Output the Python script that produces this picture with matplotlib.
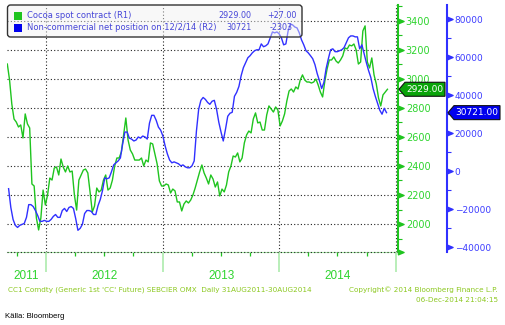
import matplotlib
matplotlib.use("Agg")
import matplotlib.pyplot as plt
import matplotlib.dates as mdates
import matplotlib.transforms as mtransforms
from matplotlib.patches import Polygon, FancyBboxPatch, Rectangle
from matplotlib.path import Path
import pandas as pd

# Cocoa front-month close (USD/t), weekly Friday samples
cocoa_start = "2011-09-02"
cocoa_close = [
    3103, 2993, 2828, 2724, 2703, 2669, 2683, 2593, 2759, 2690,
    2662, 2276, 2262, 2041, 1959, 2041, 2234, 2131, 2200, 2317,
    2303, 2386, 2393, 2338, 2448, 2393, 2359, 2400, 2359, 2365,
    2200, 2096, 2303, 2338, 2372, 2379, 2352, 2221, 2083, 2124,
    2248, 2221, 2234, 2303, 2338, 2234, 2248, 2303, 2400, 2455,
    2455, 2497, 2614, 2731, 2579, 2510, 2483, 2441, 2441, 2441,
    2455, 2400, 2441, 2428, 2559, 2552, 2483, 2414, 2297, 2262,
    2262, 2276, 2269, 2214, 2241, 2228, 2152, 2152, 2090, 2138,
    2159, 2145, 2165, 2200, 2248, 2303, 2359, 2407, 2352, 2317,
    2276, 2338, 2310, 2255, 2290, 2193, 2241, 2221, 2269, 2359,
    2400, 2469, 2462, 2490, 2428, 2455, 2559, 2614, 2641, 2628,
    2724, 2766, 2697, 2703, 2648, 2648, 2752, 2814, 2793, 2772,
    2807, 2786, 2676, 2710, 2759, 2848, 2917, 2931, 2910, 2945,
    2931, 2993, 3028, 2993, 2979, 2979, 2972, 2979, 3000, 2959,
    2910, 2876, 2986, 3069, 3131, 3131, 3152, 3124, 3110, 3131,
    3159, 3214, 3207, 3234, 3228, 3241, 3200, 3103, 3117, 3331,
    3366, 3117, 3076, 3145, 3028, 2966, 2869, 2814, 2890, 2910,
    2929,
]

# Non-commercial net position (contracts), weekly Tuesday reports
cot_start = "2011-09-06"
cot_net = [
    -9300, -19200, -25500, -28600, -29700, -28600, -28100, -27600, -24400, -17700,
    -17700, -18700, -20800, -23400, -26500, -26500, -26000, -26500, -26500, -25500,
    -23900, -22900, -24400, -24400, -20800, -19700, -21300, -19200, -18700, -19700,
    -25000, -31200, -30200, -28100, -22400, -20800, -20800, -21300, -22900, -22900,
    -18200, -15000, -10300, -3600, -4100, -3600, -400, 3200, 4300, 5300,
    6900, 14200, 20500, 20500, 17300, 16800, 15800, 16300, 17900, 17300,
    18400, 17900, 16800, 25200, 29300, 29300, 26700, 23100, 21500, 18400,
    13200, 9000, 5800, 4300, 4800, 4300, 3800, 2700, 3200, 2200,
    1700, 1700, 2700, 5300, 21000, 32500, 37200, 38700, 37700, 36100,
    35100, 36700, 37200, 32500, 25700, 20500, 15800, 22000, 28800, 30400,
    30900, 39300, 41400, 44500, 50200, 54400, 57000, 59600, 60700, 62200,
    63300, 63800, 63800, 66900, 65400, 65900, 66900, 70100, 73200, 72700,
    73200, 72200, 70100, 66400, 66900, 73700, 77400, 76900, 75800, 75300,
    72700, 69000, 66400, 63300, 62200, 60700, 59100, 56000, 51300, 47600,
    43400, 46600, 53900, 59100, 63800, 64300, 62800, 62800, 63300, 63800,
    64900, 67500, 70100, 71100, 71100, 70600, 70600, 64300, 66400, 61700,
    57000, 52800, 49200, 43400, 39300, 35600, 32000, 29900, 33000, 30721,
]

cocoa_last, cocoa_chg = 2929.00, 27.00
cot_last, cot_chg = 30721, -2303

years = [2011, 2012, 2013, 2014]
cocoa_ticks = list(range(2000, 3401, 200))
cot_ticks = list(range(-40000, 80001, 20000))

GREEN = "#1fc41f"
GREEN_TXT = "#2ed42e"
GREEN_LIGHT = "#a6eaa6"
BLUE = "#3030ff"
BLUE_TXT = "#3c3cff"
LEG_TXT = "#4646d8"
FOOT = "#8cc820"
GRID = "#222222"

W, H = 506, 325
fig = plt.figure(figsize=(W / 100, H / 100), dpi=100)
fig.patch.set_facecolor("white")
ax = fig.add_axes([7 / W, 1 - 252 / H, 391 / W, 247 / H])
ax2 = ax.twinx()

x0, x1 = pd.Timestamp("2011-09-01"), pd.Timestamp("2015-01-07")
ylim1 = (1807, 3510)
ylim2 = (-42630, 87370)

cc_dates = pd.date_range(cocoa_start, periods=len(cocoa_close), freq="W-FRI")
cot_dates = pd.date_range(cot_start, periods=len(cot_net), freq="W-TUE")

# dotted grid
dots = (0, (1, 2))
for y in cocoa_ticks:
    ax.axhline(y, color=GRID, lw=0.8, ls=dots, zorder=1)
ax.axhline(ylim1[0], color=GRID, lw=0.8, ls=dots, zorder=3, clip_on=False)
for yr in years[1:] + [2015]:
    ax.axvline(pd.Timestamp(f"{yr}-01-01"), color=GRID, lw=0.8, ls=dots, zorder=1)

ax.plot(cc_dates, cocoa_close, color=GREEN, lw=1, zorder=2)
ax2.plot(cot_dates, cot_net, color=BLUE, lw=1, zorder=2)

ax.set_xlim(x0, x1)
ax.set_ylim(*ylim1)
ax2.set_ylim(*ylim2)

# spines
for s in ["left", "top"]:
    ax.spines[s].set_visible(False)
ax.spines["right"].set_color(GREEN)
ax.spines["right"].set_linewidth(1.5)
ax.spines["bottom"].set_color(GREEN_LIGHT)
ax.spines["bottom"].set_linewidth(0.8)
for s in ["left", "top", "bottom"]:
    ax2.spines[s].set_visible(False)
ax2.spines["right"].set_position(("axes", 440 / 391))
ax2.spines["right"].set_color(BLUE)
ax2.spines["right"].set_linewidth(1.5)

# x axis: year dividers + quarterly ticks
ax.xaxis.set_major_locator(mdates.YearLocator())
ax.xaxis.set_minor_locator(mdates.MonthLocator(bymonth=[4, 7, 10]))
ax.tick_params(axis="x", which="major", length=14.5, width=1.1, color=GREEN_LIGHT,
               labelbottom=False)
ax.tick_params(axis="x", which="minor", length=3, width=0.9, color=GREEN)

# y axes
ax.yaxis.tick_right()
ax.set_yticks(cocoa_ticks)
ax.set_yticks(range(1900, 3501, 100), minor=True)
ax.tick_params(axis="y", which="major", length=0, pad=5.6, labelsize=7,
               labelcolor=GREEN_TXT)
ax.tick_params(axis="y", which="minor", length=3, width=0.8, color=GREEN)
ax2.set_yticks(cot_ticks)
ax2.set_yticks(range(-40000, 85001, 10000), minor=True)
ax2.tick_params(axis="y", which="major", length=0, pad=5.6, labelsize=6.5,
                labelcolor=BLUE_TXT)
ax2.tick_params(axis="y", which="minor", length=3, width=0.8, color=BLUE)

# arrow-shaped major ticks
tri = Path([(0, -1), (2.4, 0), (0, 1), (0, -1)],
           [Path.MOVETO, Path.LINETO, Path.LINETO, Path.CLOSEPOLY])
tr1 = mtransforms.blended_transform_factory(ax.transAxes, ax.transData)
ax.plot([1] * len(cocoa_ticks), cocoa_ticks, transform=tr1, ls="none", marker=tri,
        ms=8, color=GREEN, mec=GREEN, clip_on=False, zorder=5)
tr2 = mtransforms.blended_transform_factory(ax2.transAxes, ax2.transData)
ax2.plot([440 / 391] * len(cot_ticks), cot_ticks, transform=tr2, ls="none", marker=tri,
         ms=8, color=BLUE, mec=BLUE, clip_on=False, zorder=5)
ax.plot([1.0], [ylim1[0]], transform=tr1, ls="none", marker=tri, ms=8, color=GREEN,
        clip_on=False, zorder=5)

ident = mtransforms.IdentityTransform()


def last_tag(axis, value, xl, xr, face, label):
    yd = axis.transData.transform((0, value))[1]
    h = 7
    pts = [(xl, yd), (xl + 6, yd + h), (xr, yd + h), (xr, yd - h), (xl + 6, yd - h)]
    fig.add_artist(Polygon(pts, closed=True, fc=face, ec="#111111", lw=0.8,
                           transform=ident, zorder=10))
    fig.text((xl + 5 + xr) / 2, yd, label, transform=ident, ha="center", va="center",
             fontsize=6.5, color="white", zorder=11)


last_tag(ax, cocoa_last, 399, 445, "#0aa40a", f"{cocoa_last:.2f}")
last_tag(ax2, cot_last, 448, 500, "#0000ee", f"{cot_last:.2f}")

# legend box
fig.add_artist(FancyBboxPatch((7.5, H - 37), 294.5, 32,
                              boxstyle="round,pad=0,rounding_size=3",
                              fc=(0.94, 0.94, 0.94, 0.45), ec="#333333", lw=1,
                              transform=ident, zorder=8))
rows = [
    (16, GREEN, "Cocoa spot contract (R1)", f"{cocoa_last:.2f}", 251, f"{cocoa_chg:+.2f}", 297),
    (28, "#0000ee", "Non-commercial net position on 12/2/14 (R2)", f"{cot_last}", 252,
     f"{cot_chg}", 293),
]
for yt, c, name, val, xv, chg, xc in rows:
    fig.add_artist(Rectangle((13.5, H - yt - 4), 8, 8, fc=c, ec="none",
                             transform=ident, zorder=9))
    fig.text(27, H - yt, name, transform=ident, ha="left", va="center",
             fontsize=6, color=LEG_TXT, zorder=9)
    for x, s in [(xv, val), (xc, chg)]:
        fig.text(x, H - yt, s, transform=ident, ha="right", va="center",
                 fontsize=5.8, color=LEG_TXT, zorder=9)

# year labels
for yr in years:
    a = max(pd.Timestamp(f"{yr}-01-01"), x0)
    b = min(pd.Timestamp(f"{yr + 1}-01-01"), x1)
    xm = ax.transData.transform((mdates.date2num(a + (b - a) / 2), 0))[0]
    fig.text(xm, H - 276, str(yr), transform=ident, ha="center", va="center",
             fontsize=8.5, family="Liberation Sans", color=GREEN_TXT)

fig.text(8, H - 290, "CC1 Comdty (Generic 1st 'CC' Future) SEBCIER OMX  Daily 31AUG2011-30AUG2014",
         transform=ident, ha="left", va="center", fontsize=5.2, color=FOOT)
fig.text(498, H - 290, "Copyright\u00a9 2014 Bloomberg Finance L.P.", transform=ident,
         ha="right", va="center", fontsize=5.2, color=FOOT)
fig.text(498, H - 300, "06-Dec-2014 21:04:15", transform=ident, ha="right",
         va="center", fontsize=5.2, color=FOOT)
fig.text(5, H - 317, "Källa: Bloomberg", transform=ident, ha="left", va="center",
         fontsize=5.6, family="Liberation Sans", color="black")

fig.savefig("out.png", dpi=100)
